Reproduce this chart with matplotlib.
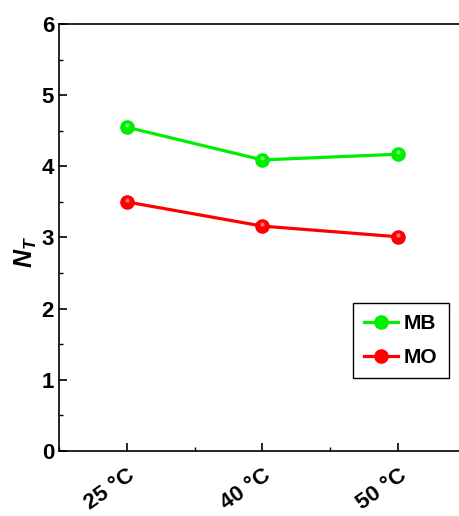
import matplotlib.pyplot as plt
from matplotlib.ticker import MultipleLocator

plt.rcParams['font.family'] = ['Liberation Sans', 'DejaVu Sans']
plt.rcParams['mathtext.fontset'] = 'custom'
plt.rcParams['mathtext.it'] = 'Liberation Sans:italic:bold'
plt.rcParams['mathtext.rm'] = 'Liberation Sans:bold'

temps = ['25 °C', '40 °C', '50 °C']
mb = [4.55, 4.09, 4.17]
mo = [3.50, 3.16, 3.01]

fig = plt.figure(figsize=(4.6, 5.16), dpi=100)
ax = fig.add_axes([0.128, 0.126, 0.885, 0.8275])

x = range(len(temps))
for vals, col, lab in [(mb, '#00ee00', 'MB'), (mo, '#ff0000', 'MO')]:
    ax.plot(x, vals, '-', color=col, lw=2.3, marker='o', ms=9.5, mec=col, mfc=col, label=lab)
    # small shine on each ball
    ax.plot(x, [v + 0.03 for v in vals], 'o', ms=3, color='white', alpha=0.45,
            markeredgewidth=0)

ax.set_xlim(-0.5, 2.5)
ax.set_ylim(0, 6)
ax.set_xticks(list(x))
ax.set_xticklabels(temps, rotation=35, ha='right', rotation_mode='anchor',
                   fontsize=14, fontweight='bold')
ax.xaxis.set_minor_locator(MultipleLocator(0.5))
ax.yaxis.set_major_locator(MultipleLocator(1))
ax.yaxis.set_minor_locator(MultipleLocator(0.5))
ax.tick_params(which='both', direction='in', top=False, right=False)
ax.tick_params(which='major', length=6, width=1.2, labelsize=16)
ax.tick_params(axis='x', which='major', pad=10)
ax.tick_params(which='minor', length=3, width=1)
for t in ax.get_yticklabels():
    t.set_fontweight('bold')
for s in ax.spines.values():
    s.set_linewidth(1.2)

fig.text(0.056, 0.512, r'$N_T$', rotation=90, fontsize=18,
         ha='center', va='center')

h = ax.get_legend_handles_labels()
leg = ax.legend(h[0], h[1], loc='upper left', bbox_to_anchor=(0.767, 0.413),
                bbox_transform=fig.transFigure, borderaxespad=0,
                fancybox=False, edgecolor='black', framealpha=1,
                prop={'weight': 'bold', 'size': 15}, handlelength=1.6,
                handletextpad=0.3, borderpad=0.55, labelspacing=0.7)
leg.get_frame().set_linewidth(1.0)

fig.savefig('out.png', dpi=100)
